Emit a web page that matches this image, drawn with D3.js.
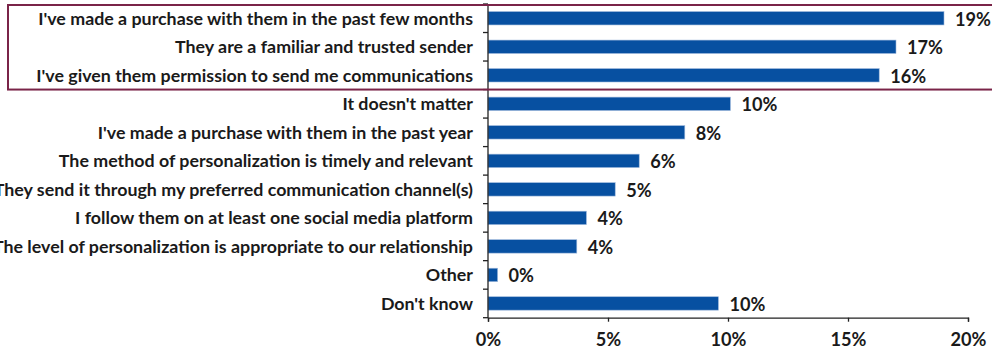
<!DOCTYPE html>
<html>
<head>
<meta charset="utf-8">
<script src="https://cdn.jsdelivr.net/npm/d3@7/dist/d3.min.js"></script>
<style>
  html, body { margin: 0; padding: 0; background: #fff; }
  svg { display: block; }
  text { font-family: Lato, "DejaVu Sans", sans-serif; font-weight: 700; fill: #1a1a1a; }
</style>
</head>
<body>
<svg id="chart" width="992" height="349"></svg>
<script>
// Reasons for trusting a sender (share of respondents, %)
const categories = [
  "I've made a purchase with them in the past few months",
  "They are a familiar and trusted sender",
  "I've given them permission to send me communications",
  "It doesn't matter",
  "I've made a purchase with them in the past year",
  "The method of personalization is timely and relevant",
  "They send it through my preferred communication channel(s)",
  "I follow them on at least one social media platform",
  "The level of personalization is appropriate to our relationship",
  "Other",
  "Don't know"
];
const values = [19.0, 17.0, 16.3, 10.1, 8.2, 6.3, 5.3, 4.1, 3.7, 0.4, 9.6];
const xTicks = [0, 5, 10, 15, 20];
const highlighted = categories.slice(0, 3);

const W = 992, H = 349;
const margin = { top: 4, right: 24, bottom: 31.3, left: 488 };

const svg = d3.select("#chart");

const x = d3.scaleLinear().domain([0, 20]).range([margin.left, W - margin.right]);
const y = d3.scaleBand()
  .domain(categories)
  .range([margin.top, H - margin.bottom])
  .paddingInner(0.53)
  .paddingOuter(0.265);

const gap = (y.step() - y.bandwidth()) / 2;

// Category labels, sized so the first row spans its usual width
const labelG = svg.append("g");
const labels = labelG.selectAll("text")
  .data(categories)
  .join("text")
  .attr("x", margin.left - 15)
  .attr("y", d => y(d) + y.bandwidth() / 2)
  .attr("dy", "0.36em")
  .attr("text-anchor", "end")
  .style("font-size", "100px")
  .text(d => d);
const refLen = labels.nodes()[0].getComputedTextLength();
const fontSize = 100 * 435 / refLen;
labels.style("font-size", fontSize + "px");

// Bars
svg.append("g")
  .selectAll("rect")
  .data(values)
  .join("rect")
  .attr("x", x(0))
  .attr("y", (d, i) => y(categories[i]))
  .attr("width", d => x(d) - x(0))
  .attr("height", y.bandwidth())
  .attr("fill", "#0750a1")
  .attr("stroke", "#9db8dc")
  .attr("stroke-width", 0.6);

// Value labels
const fmt = d => d3.format(".0f")(d) + "%";
svg.append("g")
  .selectAll("text")
  .data(values)
  .join("text")
  .attr("x", d => x(d) + 11)
  .attr("y", (d, i) => y(categories[i]) + y.bandwidth() / 2 + 1)
  .attr("dy", "0.36em")
  .style("font-size", (fontSize * 1.02) + "px")
  .text(fmt);

// Y axis: line with ticks on the category boundaries
const yAxis = svg.append("g").attr("stroke", "#222").attr("stroke-width", 1.3);
yAxis.append("line")
  .attr("x1", x(0)).attr("x2", x(0))
  .attr("y1", y.range()[0]).attr("y2", y.range()[1]);
const bounds = categories.map(c => y(c) - gap).concat([y.range()[1]]);
yAxis.selectAll("line.tick")
  .data(bounds)
  .join("line")
  .attr("class", "tick")
  .attr("x1", x(0) - 5).attr("x2", x(0))
  .attr("y1", d => d).attr("y2", d => d);

// X axis
const xAxis = svg.append("g")
  .attr("transform", `translate(0,${y.range()[1]})`)
  .call(d3.axisBottom(x).tickValues(xTicks).tickSize(4).tickPadding(11)
    .tickFormat(d => d + "%"));
xAxis.select(".domain").attr("stroke", "#222").attr("stroke-width", 1.3);
xAxis.selectAll(".tick line").attr("stroke", "#222").attr("stroke-width", 1.3);
xAxis.selectAll(".tick text")
  .attr("fill", "#1a1a1a")
  .style("font-family", "Lato, 'DejaVu Sans', sans-serif")
  .style("font-weight", 700)
  .style("font-size", (fontSize * 1.02) + "px");

// Frame around the leading group of reasons
const frameTop = y(highlighted[0]) - gap + 1;
const frameBottom = y(highlighted[highlighted.length - 1]) + y.bandwidth() + gap;
svg.append("rect")
  .attr("x", 8)
  .attr("y", frameTop)
  .attr("width", W + 10)
  .attr("height", frameBottom - frameTop)
  .attr("fill", "none")
  .attr("stroke", "#7a2448")
  .attr("stroke-width", 2);
</script>
</body>
</html>
